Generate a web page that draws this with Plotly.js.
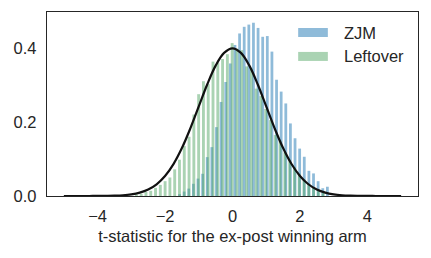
<!DOCTYPE html>
<html>
<head>
<meta charset="utf-8">
<script src="https://cdn.plot.ly/plotly-3.0.1.min.js"></script>
<style>html,body{margin:0;padding:0;background:#fff;}#chart{width:431px;height:258px;}</style>
</head>
<body>
<div id="chart"></div>
<script>
// ZJM histogram (density), bin centres and heights
const zjmStart = -1.571;
const zjmBinWidth = 0.137;
const zjmDensity = [0.005, 0.012, 0.02, 0.033, 0.047, 0.06, 0.105, 0.132, 0.186, 0.254, 0.308,
  0.358, 0.408, 0.439, 0.457, 0.463, 0.468, 0.454, 0.43, 0.432, 0.39, 0.314, 0.282, 0.25,
  0.196, 0.156, 0.128, 0.106, 0.068, 0.061, 0.04, 0.021, 0.025];

// Leftover histogram (density)
const leftStart = -2.85;
const leftBinWidth = 0.142;
const leftDensity = [0.004, 0.006, 0.011, 0.014, 0.022, 0.03, 0.04, 0.05, 0.072, 0.098,
  0.135, 0.16, 0.22, 0.275, 0.31, 0.302, 0.363, 0.36, 0.37, 0.383,
  0.413, 0.398, 0.394, 0.35, 0.344, 0.29, 0.27, 0.235, 0.205, 0.165,
  0.15, 0.118, 0.098, 0.078, 0.06, 0.045, 0.033, 0.022, 0.014, 0.008];

// Reference standard normal curve, read at 0.25 steps
const curveX = [-5, -4.75, -4.5, -4.25, -4, -3.75, -3.5, -3.25, -3, -2.75, -2.5, -2.25, -2, -1.75,
  -1.5, -1.25, -1, -0.75, -0.5, -0.25, 0, 0.25, 0.5, 0.75, 1, 1.25, 1.5, 1.75, 2, 2.25, 2.5,
  2.75, 3, 3.25, 3.5, 3.75, 4, 4.25, 4.5, 4.75, 5];
const curveY = [0, 0.00001, 0.00002, 0.00005, 0.0001, 0.0004, 0.0009, 0.002, 0.0044, 0.0091,
  0.0175, 0.0317, 0.054, 0.0863, 0.1295, 0.1826, 0.242, 0.3011, 0.3521, 0.3867, 0.3989,
  0.3867, 0.3521, 0.3011, 0.242, 0.1826, 0.1295, 0.0863, 0.054, 0.0317, 0.0175, 0.0091,
  0.0044, 0.002, 0.0009, 0.0004, 0.0001, 0.00005, 0.00002, 0.00001, 0];

const seriesNames = ['ZJM', 'Leftover'];
const xTicks = [-4, -2, 0, 2, 4];
const yTicks = [0.0, 0.2, 0.4];
const xLabel = 't-statistic for the ex-post winning arm';

const blue = 'rgba(31,119,180,0.5)';
const green = 'rgba(85,168,104,0.5)';
const ink = '#262626';
const fontFam = 'Liberation Sans, Arial, sans-serif';

const zjmX = zjmDensity.map((_, i) => zjmStart + i * zjmBinWidth);
const leftX = leftDensity.map((_, i) => leftStart + i * leftBinWidth);

const traces = [
  {type: 'bar', x: zjmX, y: zjmDensity, width: zjmBinWidth * 0.6, name: seriesNames[0],
   marker: {color: blue, line: {width: 0}}, showlegend: false, hoverinfo: 'skip'},
  {type: 'bar', x: leftX, y: leftDensity, width: leftBinWidth * 0.6, name: seriesNames[1],
   marker: {color: green, line: {width: 0}}, showlegend: false, hoverinfo: 'skip'},
  {type: 'scatter', mode: 'lines', x: curveX, y: curveY, line: {color: '#111', width: 2.2, shape: 'spline'},
   showlegend: false, hoverinfo: 'skip'}
];

const legTop = [0.913, 0.783];
const legH = 0.049;
const shapes = [];
const annotations = [];
[blue, green].forEach((c, i) => {
  shapes.push({type: 'rect', xref: 'paper', yref: 'paper', x0: 0.677, x1: 0.757,
    y0: legTop[i] - legH, y1: legTop[i], fillcolor: c, line: {width: 0}});
  annotations.push({xref: 'paper', yref: 'paper', x: 0.795, y: legTop[i] - legH / 2,
    xanchor: 'left', yanchor: 'middle', text: seriesNames[i], showarrow: false,
    font: {family: fontFam, size: 16.5, color: ink}});
});

const layout = {
  width: 431, height: 258,
  margin: {l: 47, r: 13, t: 12, b: 62},
  paper_bgcolor: '#fff', plot_bgcolor: '#fff',
  barmode: 'overlay',
  font: {family: fontFam, size: 16.5, color: ink},
  xaxis: {range: [-5.5, 5.5], tickvals: xTicks, ticks: 'outside', ticklen: 5, tickcolor: 'rgba(0,0,0,0)',
    showgrid: false, zeroline: false, showline: true, mirror: true, linecolor: ink, linewidth: 1.25,
    title: {text: xLabel, font: {family: fontFam, size: 16.5, color: ink}, standoff: 6},
    tickfont: {family: fontFam, size: 16.5, color: ink}},
  yaxis: {range: [0, 0.497], tickvals: yTicks, tickformat: '.1f', ticks: 'outside', ticklen: 6,
    tickcolor: 'rgba(0,0,0,0)', showgrid: false, zeroline: false, showline: true, mirror: true,
    linecolor: ink, linewidth: 1.25, tickfont: {family: fontFam, size: 16.5, color: ink}},
  shapes: shapes,
  annotations: annotations
};

Plotly.newPlot('chart', traces, layout, {staticPlot: true, displayModeBar: false});
</script>
</body>
</html>
